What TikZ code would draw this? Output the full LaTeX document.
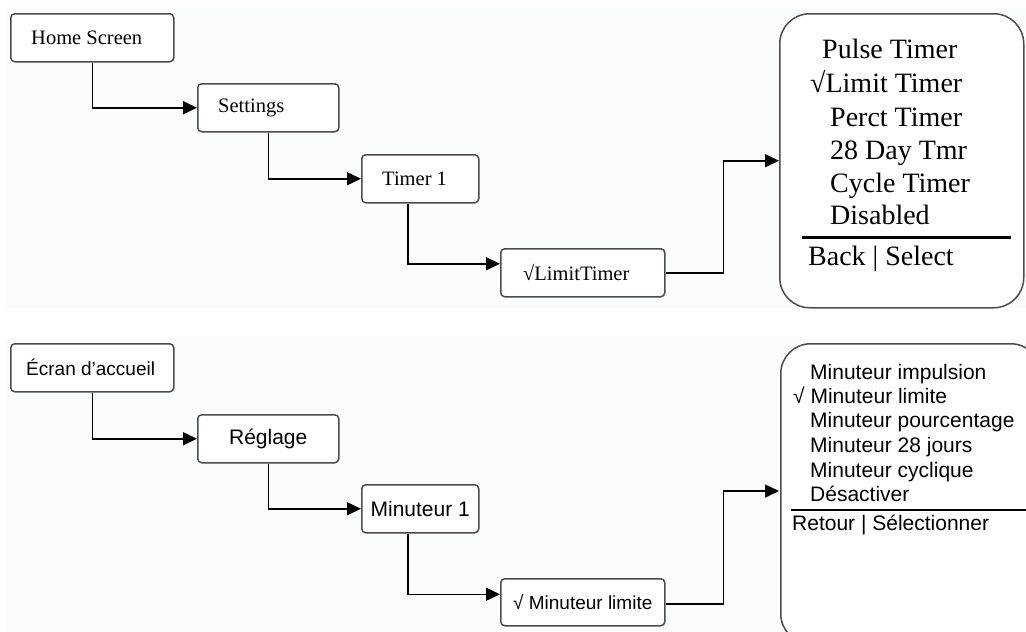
\documentclass[tikz,border=0pt]{standalone}
\usepackage{fontspec}
\setmainfont{Liberation Serif}
\newfontfamily\arialf{Liberation Sans}
\usetikzlibrary{arrows.meta}
\tikzset{
  box/.style={draw=black!70, line width=1.5pt, rounded corners=4pt, fill=white, inner sep=0pt, anchor=north west},
  bigbox/.style={draw=black!70, line width=1.5pt, rounded corners=30pt, fill=white, inner sep=0pt, anchor=north west},
  conn/.style={draw=black, line width=1.5pt, -{Triangle[length=14pt,width=13pt]}},
  entxt/.style={font=\fontsize{20.5}{24}\selectfont, inner sep=0pt, anchor=west},
  frtxt/.style={font=\arialf\fontsize{19}{23}\selectfont, inner sep=0pt},
  bigen/.style={font=\fontsize{28}{32}\selectfont, inner sep=0pt, anchor=base west},
  bigfr/.style={font=\arialf\fontsize{21}{25}\selectfont, inner sep=0pt, anchor=base west},
  bg/.style={fill={rgb,255:red,251;green,252;blue,252}, draw=none}
}
\begin{document}
\begin{tikzpicture}[x=1pt,y=-1pt]
\useasboundingbox (0,0) rectangle (1026,632);
\clip (0,0) rectangle (1026,632);
\fill[white] (0,0) rectangle (1026,632);
\path[bg] (5,7) rectangle (1026,308);
\path[bg] (5,338) rectangle (1026,632);

% ---------- top (English) ----------
\node[box, minimum width=163pt, minimum height=48pt] (home) at (10,13) {};
\node[entxt] (homet) at ([xshift=21pt]home.west) {Home Screen};
\node[box, minimum width=141pt, minimum height=48pt] (set) at (197,83) {};
\node[entxt] (sett) at ([xshift=21pt]set.west) {Settings};
\node[box, minimum width=117pt, minimum height=48pt] (tim) at (361,154) {};
\node[entxt] (timt) at ([xshift=21pt]tim.west) {Timer 1};
\node[box, minimum width=164pt, minimum height=48pt] (lim) at (500,248) {};
\node[entxt] (limt) at ([xshift=23pt]lim.west) {√LimitTimer};
\node[bigbox, minimum width=244pt, minimum height=294pt] (big) at (779,13) {};

\node[bigen] (b1) at (822,58) {Pulse Timer};
\node[bigen] (b2) at (810,92) {√Limit Timer};
\node[bigen] (b3) at (830,126) {Perct Timer};
\node[bigen] (b4) at (830,159) {28 Day Tmr};
\node[bigen] (b5) at (830,192) {Cycle Timer};
\node[bigen] (b6) at (830,224) {Disabled};
\node[bigen] (b7) at (808,265) {Back | Select};
\coordinate (l1a) at (802,237);
\coordinate (l1b) at (1011,237);
\draw[line width=3pt] (l1a) -- (l1b);

\draw[conn] (home.south) |- (set.west);
\draw[conn] (set.south) |- (tim.west);
\draw[conn] ([xshift=-12.5pt]tim.south) |- ([yshift=9pt]lim.west);
\draw[conn] (lim.east) -- ++(58,0) |- (big.west);

% ---------- bottom (French) ----------
\node[box, minimum width=163pt, minimum height=48pt] (ecr) at (10,343) {};
\node[frtxt, anchor=west] (ecrt) at ([xshift=16pt]ecr.west) {Écran d’accueil};
\node[box, minimum width=141pt, minimum height=48pt, font=\arialf\fontsize{21}{25}\selectfont] (reg) at (197,414) {Réglage};
\node[box, minimum width=117pt, minimum height=48pt, font=\arialf\fontsize{21}{25}\selectfont] (min) at (361,484) {Minuteur 1};
\node[box, minimum width=164pt, minimum height=47pt] (mlim) at (500,578) {};
\node[frtxt] (mlimt) at (mlim.center) {√ Minuteur limite};
\node[bigbox, minimum width=260pt, minimum height=300pt] (bigf) at (780,343) {};

\node[bigfr] (f1) at (810,379.5) {Minuteur impulsion};
\node[bigfr] (f2) at (793,403.5) {√ Minuteur limite};
\node[bigfr] (f3) at (810,427.5) {Minuteur pourcentage};
\node[bigfr] (f4) at (810,452.5) {Minuteur 28 jours};
\node[bigfr] (f5) at (810,477.5) {Minuteur cyclique};
\node[bigfr] (f6) at (810,501.5) {Désactiver};
\node[bigfr] (f7) at (792,530.5) {Retour | Sélectionner};
\coordinate (l2a) at (791,510);
\coordinate (l2b) at (1030,510);
\draw[line width=1.8pt] (l2a) -- (l2b);

\draw[conn] (ecr.south) |- (reg.west);
\draw[conn] (reg.south) |- (min.west);
\draw[conn] ([xshift=-12.5pt]min.south) |- ([yshift=8pt]mlim.west);
\draw[conn] ([yshift=-1.5pt]mlim.east) -- ++(58,0) |- (779,491);
\end{tikzpicture}
\end{document}
